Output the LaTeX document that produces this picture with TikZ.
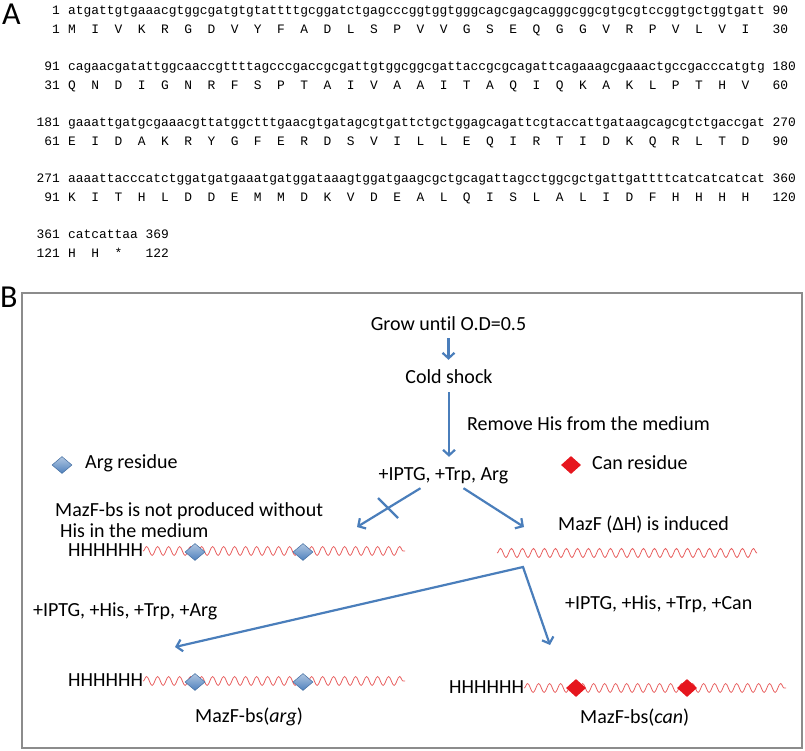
\documentclass[tikz,border=0pt]{standalone}
\usepackage{fontspec}
\newfontfamily\labfont[Ligatures=NoCommon]{Carlito}
\newfontfamily\seqfont{Liberation Mono}
\usepackage{tikz}
\usetikzlibrary{arrows.meta}
\usetikzlibrary{calc}
\usetikzlibrary{shapes.geometric}
\usetikzlibrary{decorations.pathmorphing}

\definecolor{arrowblue}{RGB}{74,126,187}
\definecolor{wavered}{RGB}{232,96,96}
\definecolor{resred}{RGB}{230,22,30}
\definecolor{diablue}{RGB}{79,129,189}
\definecolor{framegray}{RGB}{140,140,140}

\makeatletter
\newcommand{\resrow}[1]{\expandafter\resrow@\expandafter{#1}}
\def\resrow@#1{\@tfor\r@s:=#1\do{\r@s~~}}
\makeatother

\begin{document}
\begin{tikzpicture}[x=1pt,y=-1pt,>={Straight Barb[length=5.5pt,width=12pt]},
	txt/.style={font=\labfont\fontsize{20}{24}\selectfont, inner sep=0pt, text height=14pt, text depth=4pt},
	seq/.style={font=\seqfont\fontsize{12.9}{15}\selectfont, inner sep=0pt},
	panel/.style={font=\labfont\fontsize{32}{38}\selectfont, inner sep=0pt},
	flow/.style={draw=arrowblue, line width=2.2pt},
	wave/.style={draw=wavered, line width=0.8pt, decorate, decoration={snake, segment length=11pt, amplitude=4.5pt}},
	argres/.style={diamond, minimum width=20pt, minimum height=17pt, inner sep=0pt, top color=diablue!45!white, bottom color=diablue, draw=diablue!85!black, line width=0.5pt},
	canres/.style={diamond, minimum width=20pt, minimum height=18pt, inner sep=0pt, fill=resred}]
	
	\useasboundingbox (0,0) rectangle (805,751);
	
	\node[panel, anchor=base west] (pA) at (2,24.5) {A};
	\foreach \blk/\ndna/\dna/\edna/\naa/\prot/\eaa [evaluate=\blk as \yy using 15+56*\blk] in {
		0/1/atgattgtgaaacgtggcgatgtgtattttgcggatctgagcccggtggtgggcagcgagcagggcggcgtgcgtccggtgctggtgatt/90/1/MIVKRGDVYFADLSPVVGSEQGGVRPVLVI/30,
		1/91/cagaacgatattggcaaccgttttagcccgaccgcgattgtggcggcgattaccgcgcagattcagaaagcgaaactgccgacccatgtg/180/31/QNDIGNRFSPTAIVAAITAQIQKAKLPTHV/60,
		2/181/gaaattgatgcgaaacgttatggctttgaacgtgatagcgtgattctgctggagcagattcgtaccattgataagcagcgtctgaccgat/270/61/EIDAKRYGFERDSVILLEQIRTIDKQRLTD/90,
		3/271/aaaattacccatctggatgatgaaatgatggataaagtggatgaagcgctgcagattagcctggcgctgattgattttcatcatcatcat/360/91/KITHLDDEMMDKVDEALQISLALIDFHHHH/120,
		4/361/catcattaa/369/121/HH*/122}{
		\node[seq, anchor=base east] (n\blk) at (60,\yy) {\ndna};
		\node[seq, anchor=base west] (dna\blk) at (68,\yy) {\dna~\edna};
		\node[seq, anchor=base east] (m\blk) at (60,\yy+18.3) {\naa};
		\node[seq, anchor=base west] (aa\blk) at (68,\yy+18.3) {\resrow{\prot}~\eaa};
	}
	
	\node[panel, anchor=base west] (pB) at (0,307) {B};
	\draw[framegray, line width=1.2pt] (22,293) rectangle (802,748);
	
	\node[txt, anchor=base] (grow) at (448.5,330) {Grow until O.D=0.5};
	\node[txt, anchor=base] (cold) at (449,383) {Cold shock};
	\node[txt, anchor=base west] (remove) at (467,430) {Remove His from the medium};
	\node[txt, anchor=base] (iptg) at (443.5,480) {+IPTG, +Trp, Arg};
	
	\node[argres] (legA) at (62,465) {};
	\node[txt, anchor=base west] (legAtxt) at (85,468) {Arg residue};
	\node[canres] (legC) at (571,465) {};
	\node[txt, anchor=base west] (legCtxt) at (592,469) {Can residue};
	
	\node[txt, anchor=base west] (notprod) at (55,516) {MazF-bs is not produced without};
	\node[txt, anchor=base west] (notprod2) at (60,537) {His in the medium};
	\node[txt, anchor=base west] (induced) at (558,530) {MazF~(ΔH) is induced};
	\node[txt, anchor=base west] (condA) at (33,616) {+IPTG, +His, +Trp, +Arg};
	\node[txt, anchor=base west] (condC) at (565,609) {+IPTG, +His, +Trp, +Can};
	
	\node[txt, anchor=base west] (hh1) at (68,556) {HHHHHH};
	\node[txt, anchor=base west] (hh2) at (68,686) {HHHHHH};
	\node[txt, anchor=base west] (hh3) at (449,693) {HHHHHH};
	\node[txt, anchor=base west] (bsarg) at (195,722) {MazF-bs(\textit{arg})};
	\node[txt, anchor=base west] (bscan) at (580,723) {MazF-bs(\textit{can})};
	
	\draw[wave] (hh1.east) -- ++(262,0);
	\draw[wave] (497,553) -- (757,553);
	\draw[wave] (hh2.east) -- ++(262,0);
	\draw[wave] (hh3.east) -- ++(262,0);
	
	\node[argres] (r1) at (195,552) {};
	\node[argres] (r2) at (303,552) {};
	\node[argres] (r3) at (195,682) {};
	\node[argres] (r4) at (303,682) {};
	\node[canres] (c1) at (576,688) {};
	\node[canres] (c2) at (687,688) {};
	
	\coordinate (noL) at (357,527);
	\coordinate (indR) at (524,527);
	\coordinate (fork) at (523,567);
	\coordinate (argE) at (175,647);
	\coordinate (canE) at (550,645);
	
	\draw[flow, ->, shorten <=4pt, shorten >=9pt] (grow.south) -- (grow.south |- cold.north);
	\draw[flow, ->, shorten <=5pt, shorten >=9pt] (cold.south) -- (cold.south |- iptg.north);
	\draw[flow, ->] ($(iptg.south)+(-23,4)$) -- (noL);
	\draw[flow] (378,498) -- (398,518);
	\draw[flow, ->] ($(iptg.south)+(20,4)$) -- (indR);
	\draw[flow, <->] (argE) -- (fork) -- (canE);
	
\end{tikzpicture}
\end{document}
